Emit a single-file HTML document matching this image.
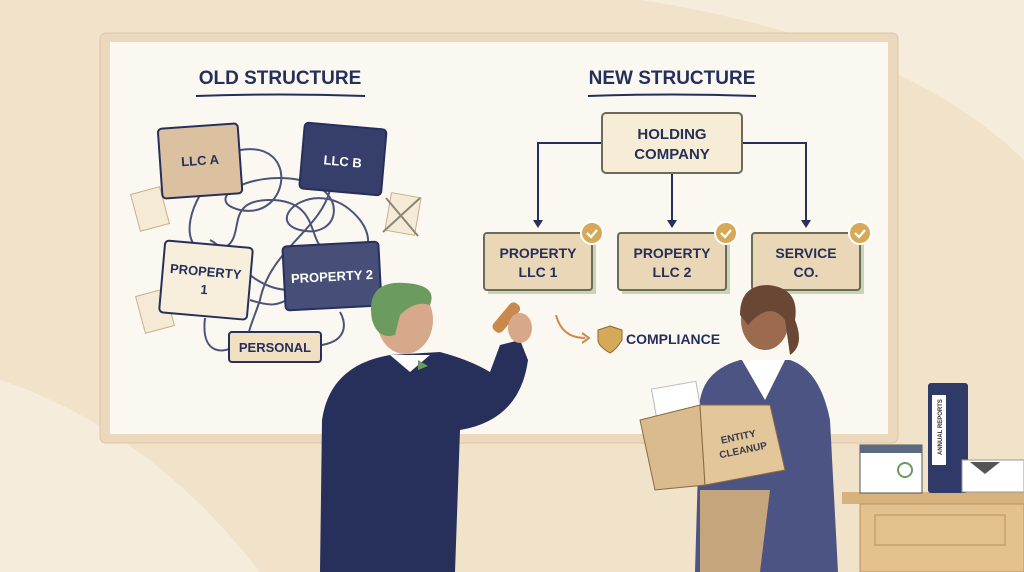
<!DOCTYPE html>
<html><head><meta charset="utf-8"><style>
html,body{margin:0;padding:0;width:1024px;height:572px;overflow:hidden;background:#f3e7d2}
svg{display:block}
text{font-family:"Liberation Sans",sans-serif;font-weight:bold}
</style></head><body>
<svg width="1024" height="572" viewBox="0 0 1024 572" xmlns="http://www.w3.org/2000/svg">
<rect width="1024" height="572" fill="#f1e3ca"/>
<path d="M640 0 Q900 40 1024 160 L1024 0Z" fill="#f6ecdc"/>
<path d="M0 380 Q150 430 260 572 L0 572Z" fill="#f6ecdc"/>
<!-- board -->
<rect x="100" y="33" width="798" height="410" rx="6" fill="#ecd9bd" stroke="#dcc6a5"/>
<rect x="110" y="42" width="778" height="392" fill="#fbf8f2"/>
<text x="280" y="84" font-size="19" fill="#24305a" text-anchor="middle">OLD STRUCTURE</text>
<path d="M196 96 Q280 93 365 96" stroke="#24305a" stroke-width="2" fill="none"/>
<text x="672" y="84" font-size="19" fill="#24305a" text-anchor="middle">NEW STRUCTURE</text>
<path d="M588 96 Q672 93 756 96" stroke="#24305a" stroke-width="2" fill="none"/>
<!-- tangle -->
<g stroke="#4b5478" stroke-width="2" fill="none">
<path d="M240 150 C300 140 290 220 240 210 C200 200 250 170 300 180 C350 190 340 240 300 230 C260 220 320 170 360 220 C390 260 330 290 290 290 C250 290 230 250 210 240"/>
<path d="M200 195 C180 230 190 260 220 250 C250 240 220 200 270 200 C330 200 300 260 340 250"/>
<path d="M330 190 C320 230 270 250 260 300 C250 330 240 345 260 340"/>
<path d="M205 318 C200 360 230 350 230 348 M322 345 C350 340 345 320 340 312"/>
<path d="M250 300 C280 310 280 300 290 300"/>
</g>
<!-- papers -->
<g fill="#f5ead5" stroke="#c8b08a"><rect x="135" y="190" width="30" height="38" transform="rotate(-15 150 209)"/><rect x="140" y="292" width="30" height="38" transform="rotate(-15 155 311)"/><rect x="388" y="195" width="30" height="38" transform="rotate(10 403 214)"/></g>
<path d="M383 232 L420 198 M386 198 L418 236" stroke="#8a8576" stroke-width="2"/>
<!-- old boxes -->
<g transform="rotate(-4 200 160)"><rect x="160" y="126" width="80" height="70" rx="4" fill="#dcc1a0" stroke="#26305a" stroke-width="2"/><text x="200" y="165" font-size="13" fill="#24305a" text-anchor="middle">LLC A</text></g>
<g transform="rotate(5 343 158)"><rect x="302" y="126" width="82" height="66" rx="4" fill="#363f6b" stroke="#26305a" stroke-width="2"/><text x="343" y="166" font-size="13" fill="#fff" text-anchor="middle">LLC B</text></g>
<g transform="rotate(5 205 280)"><rect x="162" y="244" width="88" height="72" rx="4" fill="#f7efdc" stroke="#26305a" stroke-width="2"/><text x="205" y="276" font-size="13" fill="#24305a" text-anchor="middle">PROPERTY</text><text x="205" y="294" font-size="13" fill="#24305a" text-anchor="middle">1</text></g>
<g transform="rotate(-3 332 276)"><rect x="284" y="244" width="96" height="64" rx="4" fill="#474f78" stroke="#26305a" stroke-width="2"/><text x="332" y="281" font-size="13" fill="#fff" text-anchor="middle">PROPERTY 2</text></g>
<rect x="229" y="332" width="92" height="30" rx="3" fill="#f1dfc1" stroke="#26305a" stroke-width="2"/><text x="275" y="352" font-size="13" fill="#24305a" text-anchor="middle">PERSONAL</text>
<!-- new structure -->
<g stroke="#26305a" stroke-width="2" fill="none">
<path d="M602 143 H538 V222 M742 143 H806 V222 M672 173 V222"/>
</g>
<g fill="#26305a"><path d="M533 220 L543 220 L538 228Z"/><path d="M667 220 L677 220 L672 228Z"/><path d="M801 220 L811 220 L806 228Z"/></g>
<rect x="602" y="113" width="140" height="60" rx="4" fill="#f7ecd6" stroke="#6a6b58" stroke-width="2"/>
<text x="672" y="139" font-size="15" fill="#24305a" text-anchor="middle">HOLDING</text><text x="672" y="159" font-size="15" fill="#24305a" text-anchor="middle">COMPANY</text>
<g font-size="14" fill="#24305a" text-anchor="middle">
<rect x="488" y="237" width="108" height="57" fill="#c7d4b5"/><rect x="484" y="233" width="108" height="57" rx="3" fill="#ead7b8" stroke="#6a6b58" stroke-width="2"/><text x="538" y="258">PROPERTY</text><text x="538" y="277">LLC 1</text>
<rect x="622" y="237" width="108" height="57" fill="#c7d4b5"/><rect x="618" y="233" width="108" height="57" rx="3" fill="#ead7b8" stroke="#6a6b58" stroke-width="2"/><text x="672" y="258">PROPERTY</text><text x="672" y="277">LLC 2</text>
<rect x="756" y="237" width="108" height="57" fill="#c7d4b5"/><rect x="752" y="233" width="108" height="57" rx="3" fill="#ead7b8" stroke="#6a6b58" stroke-width="2"/><text x="806" y="258">SERVICE</text><text x="806" y="277">CO.</text>
</g>
<g fill="#d6a95a" stroke="#fff" stroke-width="2"><circle cx="592" cy="233" r="11"/><circle cx="726" cy="233" r="11"/><circle cx="860" cy="233" r="11"/></g>
<g stroke="#fff" stroke-width="2.2" fill="none"><path d="M587 233 l4 4 l6 -7"/><path d="M721 233 l4 4 l6 -7"/><path d="M855 233 l4 4 l6 -7"/></g>
<path d="M556 315 Q562 338 585 338" stroke="#d18a4e" stroke-width="2" fill="none"/><path d="M582 333 l7 5 l-7 5" stroke="#d18a4e" stroke-width="2" fill="none"/>
<path d="M610 326 L622 330 L622 340 Q616 350 610 353 Q598 346 598 340 L598 330Z" fill="#d6a95a" stroke="#8a6a30"/>
<text x="626" y="344" font-size="14" fill="#24305a">COMPLIANCE</text>
<!-- man -->
<path d="M320 572 L322 420 Q330 365 390 355 L440 352 Q470 360 490 372 L500 345 L520 340 L528 360 Q520 420 460 430 L455 572Z" fill="#26305a"/>
<path d="M390 355 L410 372 L430 355Z" fill="#fff"/>
<path d="M418 360 l10 6 l-10 4z" fill="#6b9b5e"/>
<ellipse cx="405" cy="320" rx="28" ry="34" fill="#d8a88a"/>
<path d="M372 320 Q365 280 405 283 Q438 285 430 305 Q415 300 400 315 L395 335 Q378 340 372 320Z" fill="#6b9b5e"/>
<rect x="500" y="300" width="12" height="35" rx="5" fill="#c9884c" transform="rotate(40 506 318)"/>
<ellipse cx="520" cy="328" rx="12" ry="15" fill="#d8a88a"/>
<!-- woman -->
<path d="M695 572 L700 400 Q705 370 740 360 L790 360 Q820 370 830 420 L838 572Z" fill="#4b5483"/>
<path d="M742 360 L765 400 L785 360Z" fill="#fff"/>
<ellipse cx="765" cy="320" rx="24" ry="30" fill="#9c6a4e"/>
<path d="M740 315 Q740 285 768 285 Q800 288 795 320 Q805 345 790 355 L785 320 Q770 300 748 325Z" fill="#6a4634"/>
<path d="M700 490 L700 572 L760 572 L770 490Z" fill="#c4a57c"/>
<rect x="655" y="385" width="45" height="45" fill="#fff" stroke="#bbb" transform="rotate(-10 677 407)"/>
<path d="M640 420 L700 405 L705 485 L655 490Z" fill="#d9bb8e" stroke="#8a6a40"/>
<path d="M700 405 L770 405 L785 470 L705 485Z" fill="#e3c699" stroke="#8a6a40"/>
<text x="740" y="440" font-size="10" fill="#3a3a4a" text-anchor="middle" transform="rotate(-12 740 445)">ENTITY</text>
<text x="742" y="454" font-size="10" fill="#3a3a4a" text-anchor="middle" transform="rotate(-12 740 445)">CLEANUP</text>
<!-- desk -->
<rect x="842" y="492" width="182" height="12" fill="#d7b27c"/>
<rect x="860" y="504" width="164" height="68" fill="#e3c28e" stroke="#b89060"/>
<rect x="875" y="515" width="130" height="30" fill="none" stroke="#b89060"/>
<rect x="928" y="383" width="40" height="110" rx="3" fill="#2f3a68"/>
<rect x="932" y="395" width="14" height="70" fill="#fff"/>
<text x="0" y="0" font-size="6" fill="#333" transform="translate(942 455) rotate(-90)">ANNUAL REPORTS</text>
<rect x="860" y="445" width="62" height="48" fill="#fff" stroke="#555"/>
<rect x="860" y="445" width="62" height="8" fill="#5a6a80"/>
<circle cx="905" cy="470" r="7" fill="none" stroke="#6b9b5e" stroke-width="2"/>
<rect x="962" y="460" width="62" height="32" fill="#fff" stroke="#999"/>
<path d="M970 462 L1000 462 L985 474Z" fill="#555"/>
</svg>
</body></html>
